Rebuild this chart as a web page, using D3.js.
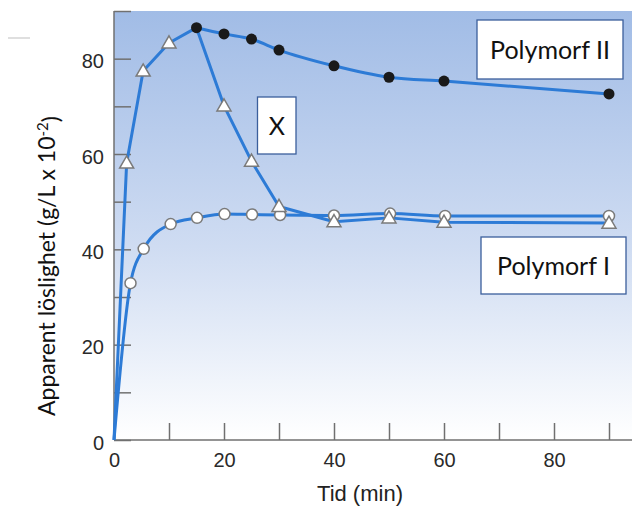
<!DOCTYPE html>
<html>
<head>
<meta charset="utf-8">
<script src="https://cdn.jsdelivr.net/npm/d3@7"></script>
<style>
  body { margin: 0; background: #fff; }
  svg { display: block; }
</style>
</head>
<body>
<svg id="chart" width="632" height="516"></svg>
<script>
// values (time in min, solubility in g/L x 10^-2)
var riseTime = [0, 2.3, 5.3, 10]
var riseValue = [0, 58.1, 77.4, 83.3]

var form2Time = [15, 20, 25, 30, 40, 50, 60, 90]
var form2Value = [86.5, 85.2, 84.1, 81.8, 78.5, 76.1, 75.3, 72.6]

var formXTime = [20, 25, 30, 40, 50, 60, 90]
var formXValue = [70.1, 58.5, 49, 45.8, 46.6, 45.7, 45.5]

var form1Time = [0, 3, 5.4, 10.3, 15.1, 20.1, 25.1, 30.2, 40, 50.2, 60.2, 90]
var form1Value = [0, 32.9, 40.1, 45.3, 46.6, 47.4, 47.3, 47.2, 47.1, 47.5, 47, 47]

var xTicks = [0, 10, 20, 30, 40, 50, 60, 70, 80, 90]
var yTicks = [0, 10, 20, 30, 40, 50, 60, 70, 80, 90]

var labels = [
  {text: "Polymorf II", box: [477, 20, 146, 59]},
  {text: "X", box: [257.5, 97, 38.5, 57]},
  {text: "Polymorf I", box: [481, 237, 145, 57]}
]

var lineColor = "#2d7bd6"
var calibri = "Lato, 'Open Sans', sans-serif"

function zip(ts, vs) {
  return ts.map(function(t, i) { return {t: t, v: vs[i]} })
}

var rise = zip(riseTime, riseValue)
var form2 = zip(form2Time, form2Value)
var formX = zip(formXTime, formXValue)
var form1 = zip(form1Time, form1Value)

var svg = d3.select("#chart")

var xScale = d3.scaleLinear().domain([0, 90]).range([114, 609])
var yScale = d3.scaleLinear().domain([0, 90]).range([440, 11])

// plot background
var grad = svg.append("defs").append("linearGradient")
  .attr("id", "bg").attr("x1", 0).attr("y1", 0).attr("x2", 0).attr("y2", 1)
grad.append("stop").attr("offset", "0%").attr("stop-color", "#a1bce6")
grad.append("stop").attr("offset", "55%").attr("stop-color", "#cfdcf2")
grad.append("stop").attr("offset", "100%").attr("stop-color", "#ffffff")

svg.append("rect")
  .attr("x", xScale(0)).attr("y", yScale(90))
  .attr("width", 632 - xScale(0)).attr("height", yScale(0) - yScale(90))
  .attr("fill", "url(#bg)")

// small stray line top left
svg.append("line").attr("x1", 8).attr("x2", 30).attr("y1", 38).attr("y2", 38)
  .attr("stroke", "#d5d5d5").attr("stroke-width", 1.5)

// axes
var xAxis = svg.append("g")
  .attr("transform", "translate(0," + yScale(0) + ")")
  .call(d3.axisBottom(xScale).tickValues(xTicks).tickSizeInner(-17).tickSizeOuter(0).tickPadding(13)
    .tickFormat(function(d) { return d % 20 == 0 ? d : "" }))
xAxis.select(".domain").remove()
xAxis.append("line").attr("x1", xScale(0)).attr("x2", 632).attr("stroke", "#707070").attr("stroke-width", 1.5)

var yAxis = svg.append("g")
  .attr("transform", "translate(" + xScale(0) + ",0)")
  .call(d3.axisLeft(yScale).tickValues(yTicks).tickSizeInner(-17).tickSizeOuter(0).tickPadding(10)
    .tickFormat(function(d) { return d % 20 == 0 ? d : "" }))
yAxis.select(".domain").remove()
yAxis.append("line").attr("y1", yScale(0)).attr("y2", yScale(90)).attr("stroke", "#707070").attr("stroke-width", 1.5)

svg.selectAll(".tick line").attr("stroke", "#707070").attr("stroke-width", 1.5)
svg.selectAll(".tick text")
  .attr("fill", "#2a2a2a")
  .style("font-family", "'Liberation Sans', Arial, sans-serif")
  .style("font-size", "20px")
yAxis.selectAll(".tick text").attr("dy", "0.45em")

// axis titles
svg.append("text")
  .attr("x", 360).attr("y", 501)
  .attr("text-anchor", "middle")
  .style("font-family", "'Liberation Sans', Arial, sans-serif")
  .style("font-size", "22px").attr("fill", "#222")
  .text("Tid (min)")

var yTitle = svg.append("text")
  .attr("transform", "translate(55,266) rotate(-90)")
  .attr("text-anchor", "middle")
  .style("font-family", calibri)
  .style("font-size", "23px").attr("fill", "#111")
yTitle.append("tspan").text("Apparent löslighet (g/L x 10")
yTitle.append("tspan").text("-2").attr("dy", "-0.5em").style("font-size", "15px")
yTitle.append("tspan").text(")").attr("dy", "0.5em")

// lines
var line = d3.line()
  .x(function(d) { return xScale(d.t) })
  .y(function(d) { return yScale(d.v) })

var smooth = d3.line()
  .x(function(d) { return xScale(d.t) })
  .y(function(d) { return yScale(d.v) })
  .curve(d3.curveMonotoneX)

var lineWidth = 3

svg.append("path").attr("d", smooth(form1))
  .attr("fill", "none").attr("stroke", lineColor).attr("stroke-width", lineWidth)

svg.append("path").attr("d", line(rise.concat([form2[0]])) )
  .attr("fill", "none").attr("stroke", lineColor).attr("stroke-width", lineWidth).attr("stroke-linejoin", "round")

svg.append("path").attr("d", smooth(form2))
  .attr("fill", "none").attr("stroke", lineColor).attr("stroke-width", lineWidth)

svg.append("path").attr("d", line([form2[0]].concat(formX)))
  .attr("fill", "none").attr("stroke", lineColor).attr("stroke-width", lineWidth).attr("stroke-linejoin", "round")

// markers
svg.selectAll(".open")
  .data(form1.slice(1))
  .enter().append("circle")
  .attr("cx", function(d) { return xScale(d.t) })
  .attr("cy", function(d) { return yScale(d.v) })
  .attr("r", 5.5)
  .attr("fill", "#fff").attr("stroke", "#7a7a7a").attr("stroke-width", 1.5)

var tri = d3.symbol().type(d3.symbolTriangle).size(85)

svg.selectAll(".tri")
  .data(rise.slice(1).concat(formX))
  .enter().append("path")
  .attr("d", tri)
  .attr("transform", function(d) { return "translate(" + xScale(d.t) + "," + (yScale(d.v) + 1) + ")" })
  .attr("fill", "#fff").attr("stroke", "#7a7a7a").attr("stroke-width", 1.5)

svg.selectAll(".dot")
  .data(form2)
  .enter().append("circle")
  .attr("cx", function(d) { return xScale(d.t) })
  .attr("cy", function(d) { return yScale(d.v) })
  .attr("r", 5.5)
  .attr("fill", "#1a1a1a")

// label boxes
labels.forEach(function(l) {
  svg.append("rect")
    .attr("x", l.box[0]).attr("y", l.box[1])
    .attr("width", l.box[2]).attr("height", l.box[3])
    .attr("fill", "#fff").attr("stroke", "#3b5f9c").attr("stroke-width", 1.3)
  svg.append("text")
    .attr("x", l.box[0] + l.box[2] / 2).attr("y", l.box[1] + l.box[3] / 2)
    .attr("dy", "0.36em")
    .attr("text-anchor", "middle")
    .style("font-family", calibri)
    .style("font-size", "25px").attr("fill", "#111")
    .text(l.text)
})
</script>
</body>
</html>
